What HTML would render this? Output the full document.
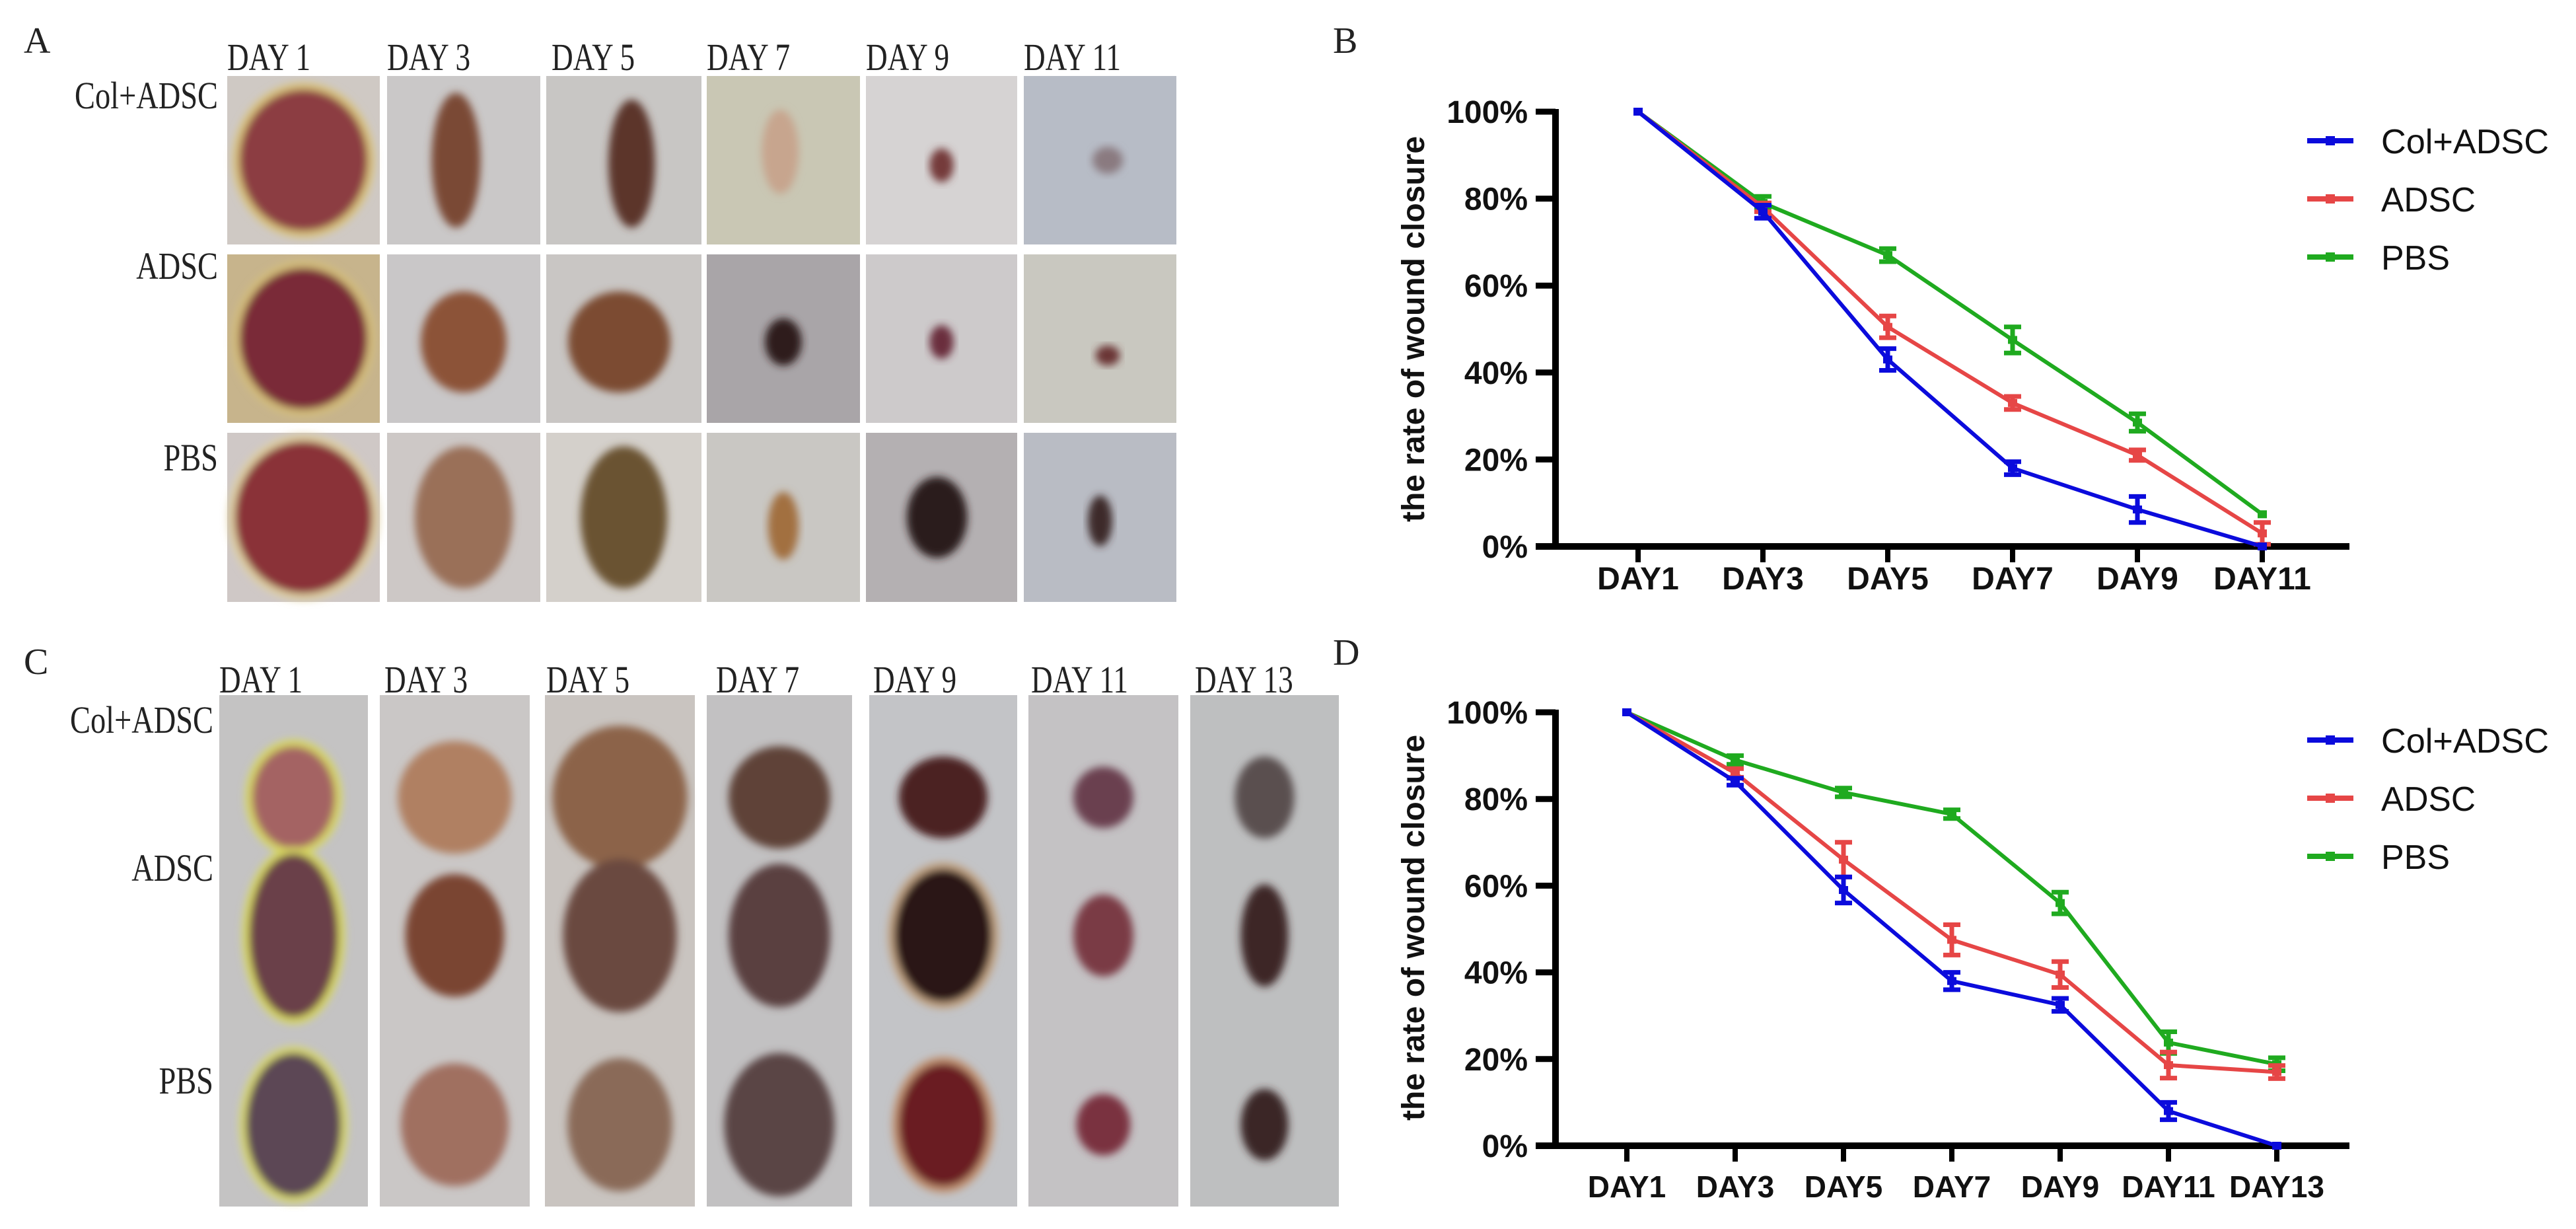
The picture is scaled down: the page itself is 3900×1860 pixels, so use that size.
<!DOCTYPE html>
<html><head><meta charset="utf-8"><style>
html,body{margin:0;padding:0;background:#fff;}
#root{position:relative;width:3900px;height:1860px;overflow:hidden;background:#fff;}
</style></head><body>
<div id="root">
<svg id="photos" width="2100" height="1860" style="position:absolute;left:0;top:0">
<defs>
<filter id="blur" x="-20%" y="-20%" width="140%" height="140%"><feGaussianBlur stdDeviation="6"/></filter>
</defs>
<g id="gA"></g>
<g id="gC"></g>
<g font-family="Liberation Serif, serif" fill="#222" font-size="56">
<text x="36" y="80">A</text>
<text x="36" y="1020">C</text>
<text x="2018" y="80">B</text>
<text x="2018" y="1006">D</text>
</g>
<g id="hdrA" font-family="Liberation Serif, serif" fill="#222" font-size="58"></g>
<g id="hdrC" font-family="Liberation Serif, serif" fill="#222" font-size="58"></g>
<g font-family="Liberation Serif, serif" fill="#222" font-size="58" text-anchor="end">
<text transform="translate(330 164) scale(0.8 1)">Col+ADSC</text>
<text transform="translate(330 422) scale(0.8 1)">ADSC</text>
<text transform="translate(330 712) scale(0.8 1)">PBS</text>
<text transform="translate(323 1109) scale(0.8 1)">Col+ADSC</text>
<text transform="translate(323 1333) scale(0.8 1)">ADSC</text>
<text transform="translate(323 1655) scale(0.8 1)">PBS</text>
</g>
</svg>
<svg id="chartB" width="1800" height="930" style="position:absolute;left:2100px;top:0"></svg>
<svg id="chartD" width="1800" height="930" style="position:absolute;left:2100px;top:930px"></svg>
</div>
<script>
// ---- Chart B data ----
const catsB = ["DAY1","DAY3","DAY5","DAY7","DAY9","DAY11"];
const colB = [100, 77, 43, 18, 8.5, 0];
const colBerr = [0, 1.5, 2.5, 1.5, 3, 0];
const adscB = [100, 78, 50.5, 33, 21, 3];
const adscBerr = [0, 1, 2.5, 1.5, 1.2, 2.5];
const pbsB = [100, 79, 67, 47.5, 28.5, 7.4];
const pbsBerr = [0, 1.5, 1.5, 3, 2, 0];
// ---- Chart D data ----
const catsD = ["DAY1","DAY3","DAY5","DAY7","DAY9","DAY11","DAY13"];
const colD = [100, 84, 59, 38, 32.5, 8, 0];
const colDerr = [0, 0.8, 3, 2, 1.5, 2, 0];
const adscD = [100, 86, 66, 47.5, 39.5, 18.6, 17];
const adscDerr = [0, 1, 4, 3.5, 3, 3, 1.5];
const pbsD = [100, 89, 81.5, 76.5, 56, 23.8, 18.8];
const pbsDerr = [0, 1, 1, 1, 2.5, 2.5, 1.5];
const yTicks = ["0%","20%","40%","60%","80%","100%"];
const legendNames = ["Col+ADSC","ADSC","PBS"];

const NS="http://www.w3.org/2000/svg";
function mk(parent, tag, attrs){const e=document.createElementNS(NS,tag);for(const k in attrs)e.setAttribute(k,attrs[k]);parent.appendChild(e);return e;}

function drawChart(svgEl, cats, series, errs, cfg){
  const svg = mk(svgEl,'g',{transform:'translate(100 0)'});
  const yS = v => cfg.y0 - (cfg.y0-cfg.y100)*v/100;
  const xS = i => cfg.x0 + cfg.dx*i;
  const ax = mk(svg,'line',{x1:cfg.axisX,y1:cfg.y100-4,x2:cfg.axisX,y2:cfg.y0+5,stroke:'#000','stroke-width':10});
   
  const bx = mk(svg,'line',{x1:cfg.axisX-30,y1:cfg.y0,x2:cfg.axisEnd,y2:cfg.y0,stroke:'#000','stroke-width':10});
   
  yTicks.forEach((t,i)=>{
    const v=i*20;
    const tl=mk(svg,'line',{x1:cfg.axisX-30,y1:yS(v),x2:cfg.axisX,y2:yS(v),stroke:'#000','stroke-width':9});
     
    const tx=mk(svg,'text',{x:cfg.axisX-42,y:yS(v)+17,'text-anchor':'end','font-family':'Liberation Sans, sans-serif','font-weight':'bold','font-size':48,fill:'#111'});
    tx.textContent=t;
     
  });
  cats.forEach((c,i)=>{
    const tl=mk(svg,'line',{x1:xS(i),y1:cfg.y0,x2:xS(i),y2:cfg.y0+24,stroke:'#000','stroke-width':8});
     
    const tx=mk(svg,'text',{x:xS(i),y:cfg.labelY,'text-anchor':'middle','font-family':'Liberation Sans, sans-serif','font-weight':'bold','font-size':cfg.catFont,fill:'#111'});
    tx.textContent=c;
     
  });
  const tt=mk(svg,'text',{x:0,y:0,'text-anchor':'middle','font-family':'Liberation Sans, sans-serif','font-weight':'bold','font-size':48,fill:'#111',transform:`translate(${cfg.titleX} ${cfg.titleY}) rotate(-90)`});
  tt.textContent='the rate of wound closure';
   
  const colors=['#0b0bdc','#e64646','#1faa1f'];
  [2,1,0].forEach(si=>{
    const vals=series[si], er=errs[si], col=colors[si];
    const pts=vals.map((v,i)=>xS(i)+','+yS(v)).join(' ');
    const pl=mk(svg,'polyline',{points:pts,fill:'none',stroke:col,'stroke-width':6,'stroke-linejoin':'round'});
    
    
    vals.forEach((v,i)=>{
      const x=xS(i);
      if(er[i]>0){
        const g=mk(svg,'g',{stroke:col,'stroke-width':7});
         
        mk(g,'line',{x1:x,y1:yS(v+er[i]),x2:x,y2:yS(v-er[i])});
        mk(g,'line',{x1:x-13,y1:yS(v+er[i]),x2:x+13,y2:yS(v+er[i])});
        mk(g,'line',{x1:x-13,y1:yS(v-er[i]),x2:x+13,y2:yS(v-er[i])});
      }
      const m=mk(svg,'rect',{x:x-7,y:yS(v)-6,width:14,height:12,fill:col});
       
    });
  });
  legendNames.forEach((n,i)=>{
    const y=cfg.legY+i*cfg.legDy;
    const g=mk(svg,'g',{});
     
    mk(g,'line',{x1:1293,y1:y,x2:1363,y2:y,stroke:colors[i],'stroke-width':8});
    mk(g,'rect',{x:1321,y:y-7,width:14,height:14,fill:colors[i]});
    const t=mk(g,'text',{x:1405,y:y+19,'font-family':'Liberation Sans, sans-serif','font-size':52,fill:'#111',textLength:n.length>4?254:(n==='ADSC'?143:104),lengthAdjust:'spacingAndGlyphs'});
    t.textContent=n;
  });
}
drawChart(document.getElementById('chartB'),catsB,[colB,adscB,pbsB],[colBerr,adscBerr,pbsBerr],
 {axisX:155,y100:169,y0:827,x0:280,dx:189,axisEnd:1357,labelY:892,titleX:-44,titleY:498,legY:213,legDy:88,catFont:48});
drawChart(document.getElementById('chartD'),catsD,[colD,adscD,pbsD],[colDerr,adscDerr,pbsDerr],
 {axisX:155,y100:148,y0:804,x0:263,dx:164,axisEnd:1357,labelY:882,titleX:-44,titleY:474,legY:190,legDy:88,catFont:46});

// ---- photos (approximations) ----
const gA=document.getElementById('gA'), gC=document.getElementById('gC');
const colsA=[[344,575],[586,818],[827,1062],[1070,1302],[1311,1540],[1550,1781]];
const rowsA=[[115,370],[385,640],[655,911]];
const woundsA=[
 [['#cfc9c4','#8c3c42',0.42,0.42,0,0,'#d9c27a'],['#cac8c8','#7a4a36',0.16,0.4,-0.05,0,null],['#c8c6c4','#5c3529',0.15,0.38,0.05,0.02,null],['#c9c7b4','#c7a58e',0.12,0.25,-0.02,-0.05,null],['#d6d3d3','#743a3a',0.08,0.1,0,0.03,null],['#b7bcc6','#8a7a80',0.1,0.08,0.05,0,null]],
 [['#c7b48c','#7a2a38',0.42,0.42,0,0,'#d6c07a'],['#c9c7c8','#8c5238',0.28,0.3,0,0.02,null],['#c9c6c4','#7c4c30',0.33,0.3,-0.03,0.02,null],['#a9a5a8','#2f1b1c',0.12,0.14,0,0.02,null],['#cdcacb','#6a2e3c',0.08,0.1,0,0.02,null],['#c9c8c0','#6a3535',0.08,0.06,0.05,0.1,null]],
 [['#cfc8c6','#8a3038',0.45,0.45,0,0,'#e0d0a0'],['#cdc8c6','#9a7058',0.32,0.42,0,0,null],['#d4d0cb','#6a5232',0.28,0.42,0,0,null],['#c9c7c3','#a27040',0.1,0.2,0,0.05,null],['#b4b0b2','#2c1b1b',0.2,0.24,-0.03,0,null],['#b9bcc4','#3e2a2c',0.08,0.15,0,0.02,null]]
];
rowsA.forEach((r,ri)=>colsA.forEach((c,ci)=>{
  const w=woundsA[ri][ci], W=c[1]-c[0], H=r[1]-r[0], cx=c[0]+W/2+w[4]*W, cy=r[0]+H/2+w[5]*H;
  const g=mk(gA,'g',{});
   
  mk(g,'rect',{x:c[0],y:r[0],width:W,height:H,fill:w[0]});
  const cl=mk(g,'g',{filter:'url(#blur)'});
  if(w[6]) mk(cl,'ellipse',{cx:cx,cy:cy,rx:w[2]*W+10,ry:w[3]*H+10,fill:w[6]});
  mk(cl,'ellipse',{cx:cx,cy:cy,rx:w[2]*W,ry:w[3]*H,fill:w[1]});
}));
const colsC=[[332,557],[575,802],[825,1052],[1070,1290],[1316,1540],[1557,1784],[1802,2027]];
const yC=[1052,1826];
const rowY=[0.16,0.47,0.84];
const woundsC=[
 [['#c4c3c3'],['#a46464',0.28,0.1,'#d8d860'],['#6a4048',0.3,0.16,'#d8d860'],['#5c4654',0.32,0.14,'#d8d870']],
 [['#cac7c6'],['#b08062',0.38,0.11,null],['#7a4530',0.33,0.12,null],['#a07060',0.36,0.12,null]],
 [['#c9c4c0'],['#8c6448',0.45,0.14,null],['#6a4a40',0.38,0.15,null],['#8a6a58',0.35,0.13,null]],
 [['#c2c1c2'],['#5e4238',0.35,0.1,null],['#5a4040',0.35,0.14,null],['#5a4545',0.38,0.14,null]],
 [['#c3c4c7'],['#4c2224',0.3,0.08,null],['#2c1212',0.33,0.13,'#c0a080'],['#6a1a22',0.3,0.12,'#c09070']],
 [['#c4c2c4'],['#6a4050',0.2,0.06,null],['#7a3a45',0.2,0.08,null],['#7a3040',0.18,0.06,null]],
 [['#bebfc0'],['#5a5050',0.2,0.08,null],['#3c2626',0.16,0.1,null],['#3a2525',0.16,0.07,null]]
];
colsC.forEach((c,ci)=>{
  const w=woundsC[ci], W=c[1]-c[0], H=yC[1]-yC[0];
  const g=mk(gC,'g',{});
   
  mk(g,'rect',{x:c[0],y:yC[0],width:W,height:H,fill:w[0][0]});
  const cl=mk(g,'g',{filter:'url(#blur)'});
  for(let k=1;k<=3;k++){
    const s=w[k], cx=c[0]+W/2, cy=yC[0]+rowY[k-1]*H+(k===1?0.04*H:0);
    if(s[3]) mk(cl,'ellipse',{cx:cx,cy:cy,rx:s[1]*W+10,ry:s[2]*H+10,fill:s[3]});
    mk(cl,'ellipse',{cx:cx,cy:cy,rx:s[1]*W,ry:s[2]*H,fill:s[0]});
  }
});
const hA=document.getElementById('hdrA');
const hdrAlabels=["DAY 1","DAY 3","DAY 5","DAY 7","DAY 9","DAY 11"];
const hdrAx=[344,586,835,1070,1311,1550];
hdrAlabels.forEach((t,i)=>{
  const e=mk(hA,'text',{x:0,y:0,transform:`translate(${hdrAx[i]} 106) scale(0.78 1)`});
  e.textContent=t;
   
});
const hC=document.getElementById('hdrC');
const hdrClabels=["DAY 1","DAY 3","DAY 5","DAY 7","DAY 9","DAY 11","DAY 13"];
const hdrCx=[332,582,827,1084,1322,1561,1809];
hdrClabels.forEach((t,i)=>{
  const e=mk(hC,'text',{x:0,y:0,transform:`translate(${hdrCx[i]} 1048) scale(0.78 1)`});
  e.textContent=t;
   
});
</script>
</body></html>
